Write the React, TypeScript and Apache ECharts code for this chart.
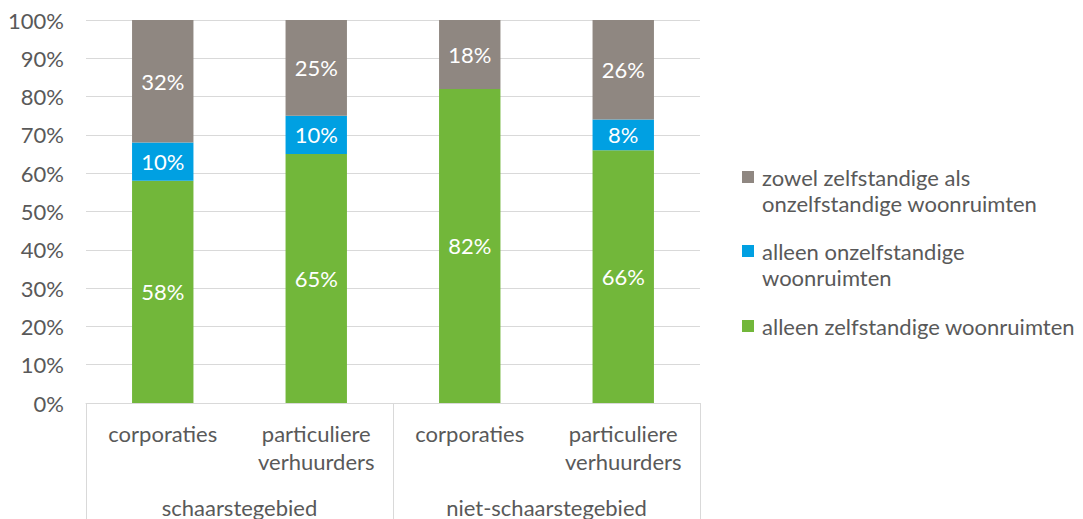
import React, { useEffect, useRef } from "react";
import * as echarts from "echarts";

const categories = ["corporaties", "particuliere\nverhuurders", "corporaties", "particuliere\nverhuurders"];
const groups = ["schaarstegebied", "niet-schaarstegebied"];
const seriesNames = [
  "alleen zelfstandige woonruimten",
  "alleen onzelfstandige woonruimten",
  "zowel zelfstandige als onzelfstandige woonruimten",
];
const legendLabels = [
  "alleen zelfstandige woonruimten",
  "alleen onzelfstandige\nwoonruimten",
  "zowel zelfstandige als\nonzelfstandige woonruimten",
];
const green = [58, 65, 82, 66];
const blue = [10, 10, 0, 8];
const gray = [32, 25, 18, 26];
const colors = ["#72B73A", "#00A0E2", "#8F8781"];

const FONT = "Lato, 'Open Sans', sans-serif";
const TXT = "#595959";
const FS = 22;

export default function App() {
  const ref = useRef<HTMLDivElement>(null);
  useEffect(() => {
    if (!ref.current) return;
    const chart = echarts.init(ref.current, undefined, { renderer: "svg" });
    const values = [green, blue, gray];
    const lh = 26;
    const legendCenters = [326, 251, 177];
    const legendGraphics: any[] = [];
    seriesNames.forEach((n, i) => {
      const cy = legendCenters[i];
      legendGraphics.push({
        type: "rect",
        shape: { x: 742, y: cy - 6, width: 12, height: 12 },
        style: { fill: colors[i] },
      });
      legendGraphics.push({
        type: "text",
        x: 762,
        y: cy - lh / 2,
        style: {
          text: legendLabels[i],
          fill: TXT,
          font: `${FS}px ${FONT}`,
          lineHeight: lh,
          verticalAlign: "top",
          align: "left",
        },
      });
    });
    chart.setOption({
      animation: false,
      textStyle: { fontFamily: FONT },
      grid: { left: 86, top: 20, width: 614, height: 383 },
      graphic: legendGraphics,
      xAxis: [
        {
          type: "category",
          data: categories,
          axisLine: { show: true, lineStyle: { color: "#D9D9D9", width: 1 } },
          axisTick: { show: false },
          axisLabel: {
            color: TXT,
            fontSize: FS,
            fontFamily: FONT,
            lineHeight: 28,
            margin: 16,
            interval: 0,
          },
        },
        {
          type: "category",
          data: groups,
          position: "bottom",
          axisLine: { show: false },
          axisTick: { show: true, length: 120, lineStyle: { color: "#D9D9D9", width: 1 } },
          axisLabel: {
            color: TXT,
            fontSize: FS,
            fontFamily: FONT,
            margin: 93,
            interval: 0,
          },
        },
      ],
      yAxis: {
        type: "value",
        min: 0,
        max: 100,
        interval: 10,
        axisLine: { show: false },
        axisTick: { show: false },
        splitLine: { lineStyle: { color: "#D9D9D9", width: 1 } },
        axisLabel: {
          formatter: "{value}%",
          color: TXT,
          fontSize: FS,
          fontFamily: FONT,
          margin: 22,
        },
      },
      series: seriesNames.map((n, i) => ({
        name: n,
        type: "bar",
        stack: "total",
        xAxisIndex: 0,
        barWidth: "40%",
        data: values[i],
        itemStyle: { color: colors[i] },
        label: {
          show: true,
          position: "inside",
          color: "#FFFFFF",
          fontSize: FS,
          fontFamily: FONT,
          formatter: (p: any) => (p.value ? p.value + "%" : ""),
        },
      })),
    });
    return () => chart.dispose();
  }, []);
  return (
    <div
      ref={ref}
      style={{ position: "fixed", left: 0, top: 0, width: 1083, height: 519, background: "#fff" }}
    />
  );
}
